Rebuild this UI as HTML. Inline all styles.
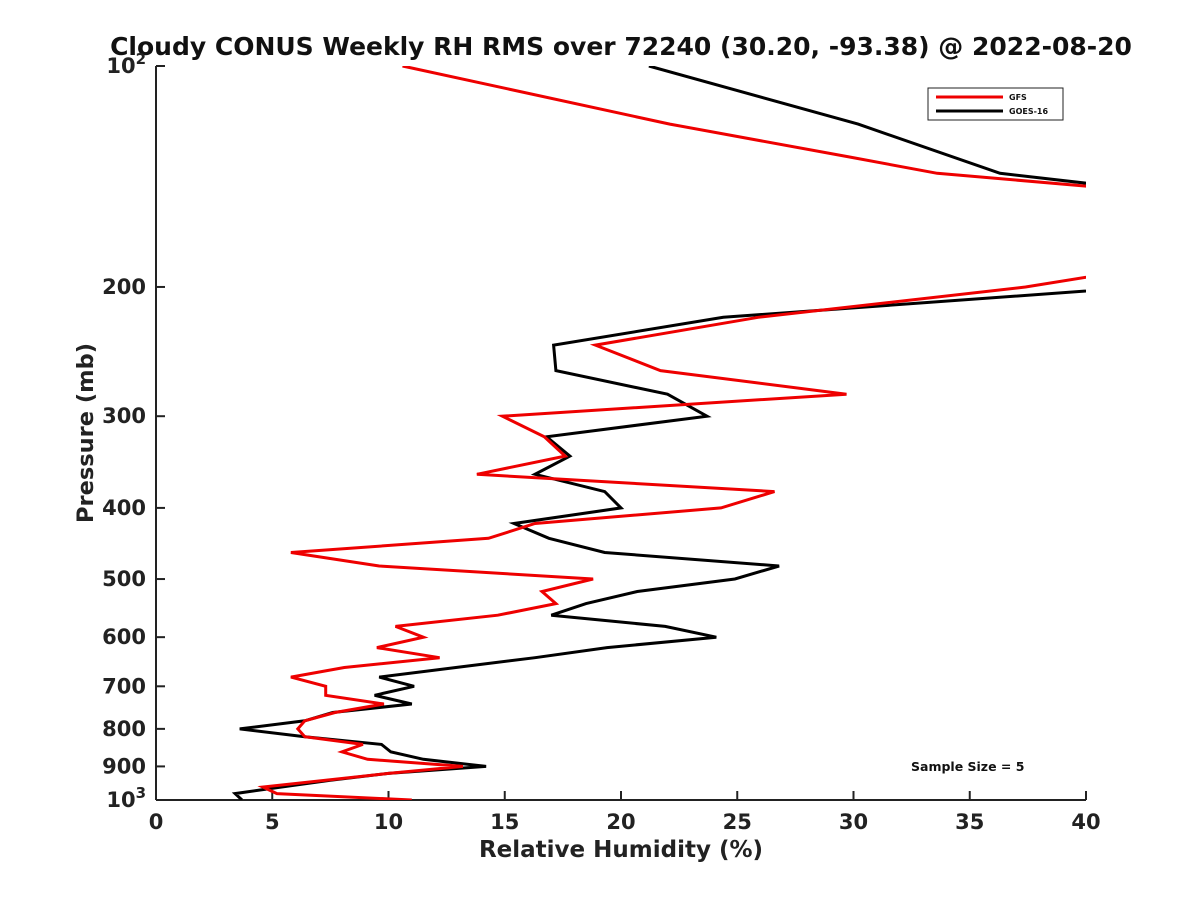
<!DOCTYPE html>
<html><head><meta charset="utf-8"><style>
body{margin:0;background:#fff}
svg{display:block;font-family:"DejaVu Sans","Liberation Sans",sans-serif;font-weight:bold}
</style></head><body>
<svg id="chart" width="1200" height="900" viewBox="0 0 1200 900">
<defs><clipPath id="clip"><rect x="156" y="66" width="930" height="734"/></clipPath></defs>
<rect width="1200" height="900" fill="#fff"/>
<text x="621" y="55" text-anchor="middle" font-size="25" fill="#111">Cloudy CONUS Weekly RH RMS over 72240 (30.20, -93.38) @ 2022-08-20</text>
<g id="axes"></g>
<g id="series" clip-path="url(#clip)"></g>
<g>
<rect x="928" y="88" width="135" height="32" fill="#fff" stroke="#222" stroke-width="1"/>
<line x1="936" y1="97" x2="1003" y2="97" stroke="#e00" stroke-width="3"/>
<text x="1009" y="100" font-size="8" fill="#111">GFS</text>
<line x1="936" y1="111" x2="1003" y2="111" stroke="#000" stroke-width="3"/>
<text x="1009" y="114" font-size="8" fill="#111">GOES-16</text>
</g>
<text x="911" y="771" font-size="12.5" fill="#111">Sample Size = 5</text>
<text x="621" y="857" text-anchor="middle" font-size="23" fill="#222">Relative Humidity (%)</text>
<text transform="translate(93,433) rotate(-90)" text-anchor="middle" font-size="22.5" fill="#222">Pressure (mb)</text>
</svg>
<script>
const xTicks=[0,5,10,15,20,25,30,35,40];
const yTicks=[100,200,300,400,500,600,700,800,900,1000];
const yTickLabels=["10^2","200","300","400","500","600","700","800","900","10^3"];
const gfsPressure=[100,120,133,140,160,180,200,220,240,260,280,300,320,340,360,380,400,420,440,460,480,500,520,540,560,580,600,620,640,660,680,700,720,740,760,780,800,820,840,860,880,900,920,940,960,980,1000];
const gfsRH=[10.6,22.1,29.8,33.6,54.9,46.4,37.4,25.9,18.9,21.7,29.7,14.9,16.7,17.6,13.8,26.6,24.3,16.3,14.3,5.8,9.6,18.8,16.6,17.2,14.7,10.3,11.5,9.5,12.2,8.1,5.8,7.3,7.3,9.8,7.7,6.4,6.1,6.4,8.9,8.0,9.1,13.2,10.0,7.3,4.6,5.2,11.0];
const goesPressure=[100,120,140,160,180,200,220,240,260,280,300,320,340,360,380,400,420,440,460,480,500,520,540,560,580,600,620,640,660,680,700,720,740,760,780,800,820,840,860,880,900,920,940,960,980,1000];
const goesRH=[21.2,30.2,36.3,52.2,50.0,42.4,24.4,17.1,17.2,22.0,23.7,16.8,17.8,16.3,19.3,20.0,15.4,16.9,19.3,26.8,24.9,20.7,18.5,17.0,21.9,24.1,19.4,16.3,12.9,9.6,11.1,9.4,11.0,7.6,6.4,3.6,6.4,9.7,10.1,11.5,14.2,10.0,7.5,5.4,3.4,3.7];

const NS="http://www.w3.org/2000/svg";
const L=156,R=1086,T=66,B=800;
const xs=v=>L+(v-0)/40*(R-L);
const ys=p=>T+(Math.log10(p)-2)*(B-T);
const axes=document.getElementById('axes');
const series=document.getElementById('series');
function mk(tag,attrs,parent){const e=document.createElementNS(NS,tag);for(const k in attrs)e.setAttribute(k,attrs[k]);parent.appendChild(e);return e;}

let a=mk('line',{x1:L,y1:T,x2:L,y2:B,stroke:'#222','stroke-width':2},axes);


a=mk('line',{x1:L,y1:B,x2:R,y2:B,stroke:'#222','stroke-width':2},axes);



xTicks.forEach(v=>{
  const x=xs(v);
  const t=mk('line',{x1:x,y1:B,x2:x,y2:B-9,stroke:'#222','stroke-width':2},axes);
  
  
  const tx=mk('text',{x:x,y:B+29,'text-anchor':'middle','font-size':21,fill:'#222'},axes);
  tx.textContent=String(v);
  
  
});
yTicks.forEach((p,i)=>{
  const y=ys(p);
  const t=mk('line',{x1:L,y1:y,x2:L+9,y2:y,stroke:'#222','stroke-width':2},axes);
  
  
  const lab=yTickLabels[i];
  const tx=mk('text',{x:L-10,y:y+7,'text-anchor':'end','font-size':21,fill:'#222'},axes);
  if(lab.indexOf('^')>=0){
    const parts=lab.split('^');
    tx.textContent=parts[0];
    const sup=mk('tspan',{dy:-9,'font-size':15},tx);
    sup.textContent=parts[1];
  } else tx.textContent=lab;
  
  
});

function drawLine(ps,vs,color,name){
  const d=vs.map((v,i)=>(i?'L':'M')+xs(v).toFixed(1)+' '+ys(ps[i]).toFixed(1)).join(' ');
  const p=mk('path',{d:d,fill:'none',stroke:color,'stroke-width':3,'stroke-linejoin':'miter'},series);
  
  
}
drawLine(goesPressure,goesRH,'#000','goes16-line');
drawLine(gfsPressure,gfsRH,'#e00','gfs-line');
</script>
</body></html>
